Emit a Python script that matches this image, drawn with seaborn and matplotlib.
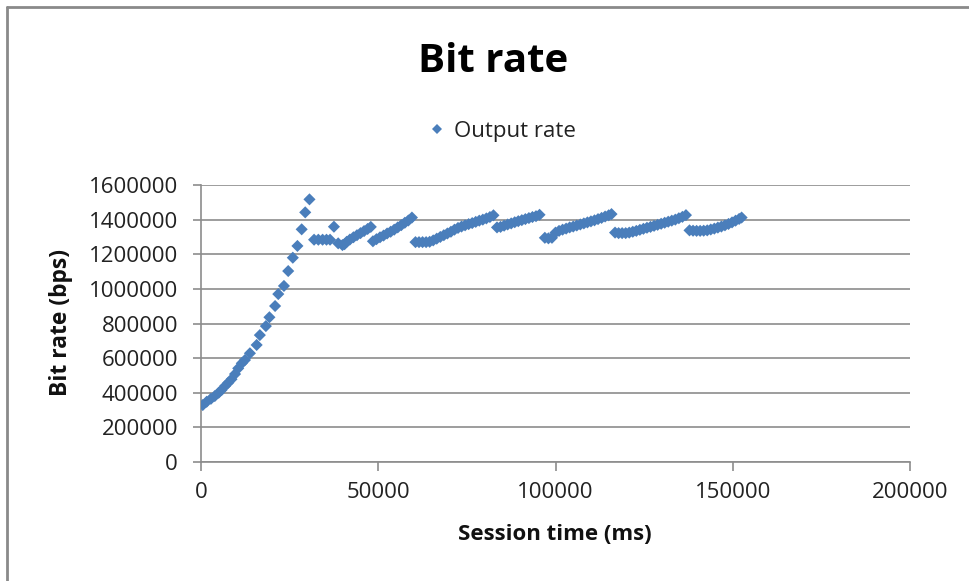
import matplotlib
matplotlib.use("Agg")
import matplotlib.pyplot as plt
from matplotlib.lines import Line2D
import seaborn as sns
import pandas as pd

# Session time (ms) and output bit rate (bps)
time_ms = [
    500, 1600, 2800, 3900, 5000, 5800, 6800, 7700, 8600, 9600, 10500, 11500, 12400,
    13800, 15700, 16600, 18300, 19300, 20900, 21800, 23400, 24600, 25900, 27200,
    28400, 29400, 30600,
    31900, 33100, 34300, 35400, 36400, 37500, 38700, 39900, 40500,
    41100, 42000, 43000, 44000, 45000, 46000, 47000, 47900,
    48500, 49500, 50500, 51500, 52500, 53500, 54500, 55500, 56500, 57500, 58500, 59500,
    60500, 61500, 62500, 63500, 64500, 65500, 66500, 67500, 68500, 69500, 70500,
    71500, 72500, 73500, 74500, 75500, 76500, 77500, 78500, 79500, 80500, 81500, 82500,
    83500, 84500, 85500, 86500, 87500, 88500, 89500, 90500, 91500, 92500, 93500, 94500, 95500,
    97000, 98000, 99000, 100000, 101000, 102000, 103000, 104000, 105000, 106000, 107000,
    108000, 109000, 110000, 111000, 112000, 113000, 114000, 115000, 115800,
    116800, 117800, 118800, 119800, 120800, 121800, 122800, 123800, 124800, 125800,
    126800, 127800, 128800, 129800, 130800, 131800, 132800, 133800, 134800, 135800, 136800,
    137800, 138800, 139800, 140800, 141800, 142800, 143800, 144800, 145800, 146800,
    147800, 148800, 149800, 150800, 151800, 152500,
]
output_rate = [
    329000, 348000, 365000, 381000, 400000, 416000, 439000, 458000, 478000, 508000, 541000, 570000, 589000,
    628000, 676000, 733000, 785000, 836000, 901000, 970000, 1017000, 1103000, 1180000, 1248000,
    1344000, 1442000, 1517000,
    1284000, 1284000, 1284000, 1284000, 1284000, 1359000, 1263000, 1253000, 1258000,
    1272000, 1285000, 1298000, 1310000, 1322000, 1334000, 1346000, 1358000,
    1275000, 1287000, 1298000, 1308000, 1320000, 1330000, 1342000, 1355000, 1368000, 1382000, 1395000, 1412000,
    1270000, 1270000, 1270000, 1270000, 1272000, 1280000, 1290000, 1300000, 1310000, 1320000, 1330000,
    1342000, 1352000, 1360000, 1367000, 1374000, 1380000, 1387000, 1394000, 1400000, 1407000, 1415000, 1425000,
    1355000, 1358000, 1365000, 1372000, 1378000, 1385000, 1391000, 1397000, 1403000, 1409000, 1415000, 1420000, 1428000,
    1295000, 1292000, 1295000, 1325000, 1335000, 1342000, 1348000, 1355000, 1360000, 1366000, 1372000,
    1378000, 1384000, 1390000, 1396000, 1403000, 1410000, 1418000, 1425000, 1432000,
    1325000, 1322000, 1322000, 1322000, 1325000, 1330000, 1335000, 1341000, 1347000, 1353000,
    1358000, 1364000, 1370000, 1376000, 1382000, 1388000, 1394000, 1400000, 1408000, 1416000, 1426000,
    1338000, 1336000, 1335000, 1335000, 1336000, 1338000, 1343000, 1348000, 1354000, 1360000,
    1367000, 1375000, 1384000, 1394000, 1404000, 1412000,
]
series_name = "Output rate"
x_ticks = [0, 50000, 100000, 150000, 200000]
y_ticks = [0, 200000, 400000, 600000, 800000, 1000000, 1200000, 1400000, 1600000]

df = pd.DataFrame({"Session time (ms)": time_ms, "Bit rate (bps)": output_rate,
                   "series": series_name})

sns.set_theme(style="white")
plt.rcParams["font.family"] = ["Open Sans", "DejaVu Sans"]

W, H = 970, 581
fig = plt.figure(figsize=(W / 100, H / 100), dpi=100)
left, right, top, bottom = 201, 910, 185, 462
ax = fig.add_axes([left / W, 1 - bottom / H, (right - left) / W, (bottom - top) / H])

blue = "#4A7EBB"
grid_c = "#8C8C8C"

sns.scatterplot(data=df, x="Session time (ms)", y="Bit rate (bps)", hue="series",
                palette=[blue], marker="D", s=38, linewidth=0, ax=ax, legend=False,
                zorder=3)

ax.set_xlim(0, 200000)
ax.set_ylim(0, 1600000)
ax.set_xticks(x_ticks)
ax.set_yticks(y_ticks)
ax.set_xticklabels([str(v) for v in x_ticks])
ax.set_yticklabels([str(v) for v in y_ticks])

for s in ["top", "right"]:
    ax.spines[s].set_visible(False)
for s in ["left", "bottom"]:
    ax.spines[s].set_color(grid_c)
    ax.spines[s].set_linewidth(1.2)

ax.yaxis.grid(True, color=grid_c, linewidth=1.2)
ax.xaxis.grid(False)
ax.set_axisbelow(True)

ax.tick_params(axis="y", direction="out", length=5.5, width=1.2, color=grid_c,
               pad=11, labelsize=16, labelcolor="#222222", left=True)
ax.tick_params(axis="x", direction="out", length=6.5, width=1.2, color=grid_c,
               pad=8, labelsize=16, labelcolor="#222222", bottom=True)

ax.set_xlabel("Session time (ms)", fontsize=16, fontweight="bold", color="#111111")
ax.set_ylabel("Bit rate (bps)", fontsize=16.5, fontweight="bold", color="#111111")
ax.xaxis.set_label_coords(0.499, -0.225)
ax.yaxis.set_label_coords(-0.180, 0.505)

fig.text(493 / W, 1 - 62 / H, "Bit rate", fontsize=29, fontweight="bold",
         ha="center", va="center", color="#000000")

handle = Line2D([], [], linestyle="none", marker="D", markersize=4.6,
                markerfacecolor=blue, markeredgewidth=0)
fig.legend([handle], [series_name], loc="center", bbox_to_anchor=(503 / W, 1 - 131 / H),
           frameon=False, fontsize=16, handlelength=0.6, handletextpad=0.5,
           labelcolor="#222222")

# outer chart border (left and top edges visible)
fig.add_artist(Line2D([7 / W, 7 / W], [0, 1 - 7 / H], color="#8A8A8A", linewidth=2,
                      transform=fig.transFigure))
fig.add_artist(Line2D([7 / W, 1], [1 - 7 / H, 1 - 7 / H], color="#8A8A8A", linewidth=2,
                      transform=fig.transFigure))

fig.savefig("out.png", dpi=100)
